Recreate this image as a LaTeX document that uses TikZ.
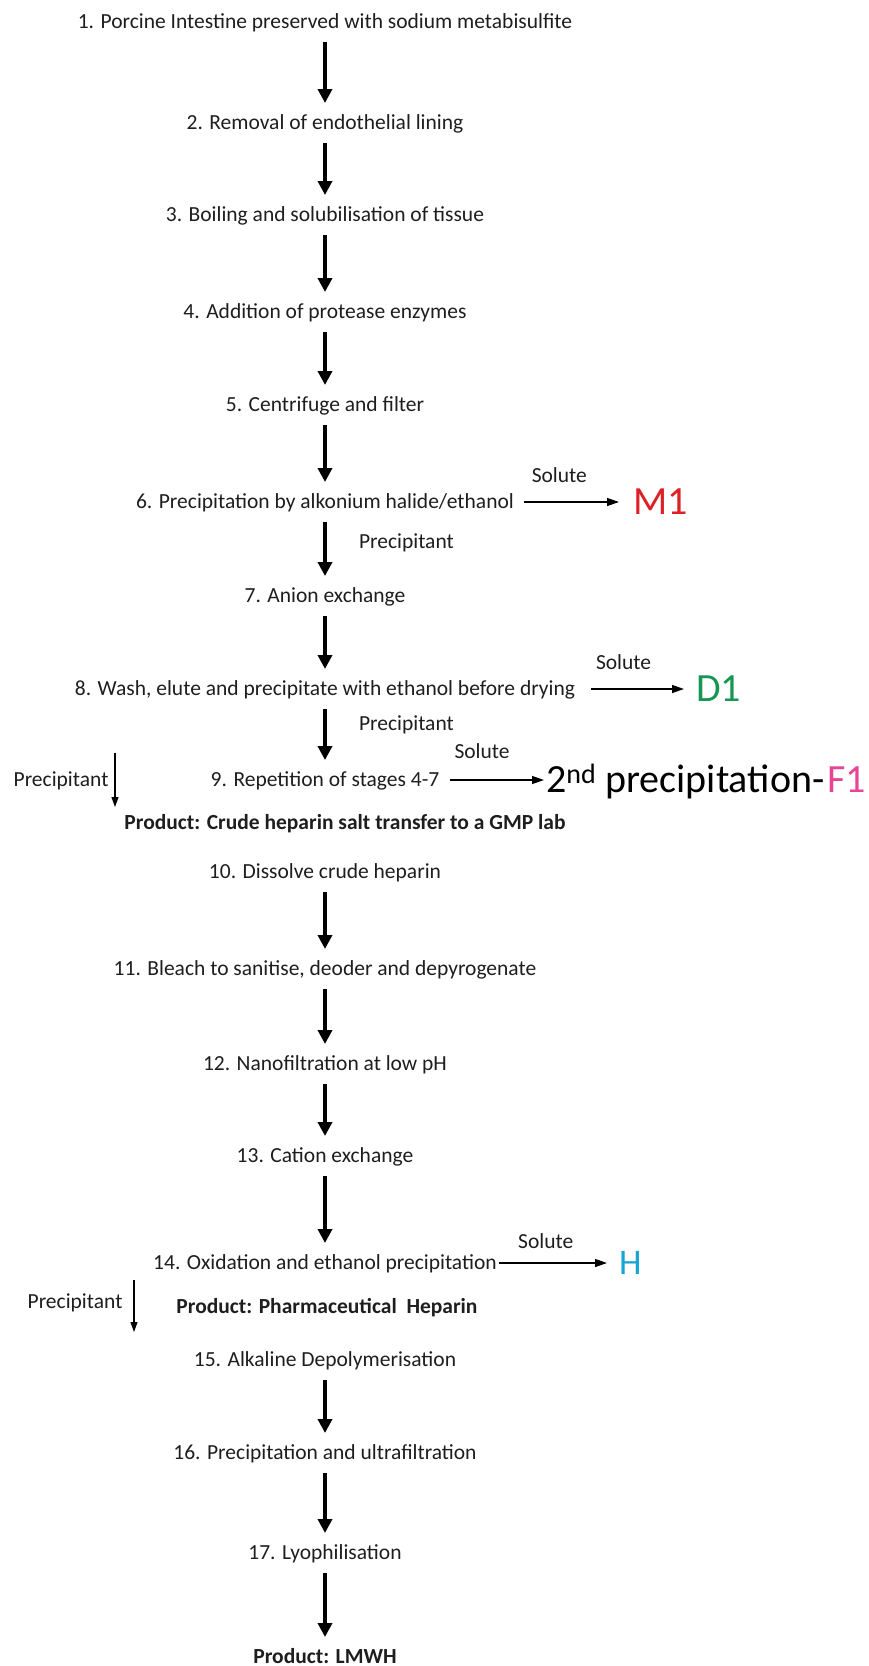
\documentclass[tikz,border=0pt]{standalone}
\usepackage{fontspec}
\setmainfont{Carlito}
\usepackage{tikz}
\usetikzlibrary{arrows.meta,positioning}
\definecolor{inkgrey}{RGB}{30,30,30}
\definecolor{mred}{RGB}{220,32,38}
\definecolor{dgreen}{RGB}{22,150,82}
\definecolor{fpink}{RGB}{230,70,150}
\definecolor{hcyan}{RGB}{25,165,210}
\newcommand{\stepfont}{\fontsize{21.5}{26}\selectfont}
\newcommand{\tagfont}{\fontsize{40}{46}\selectfont}
\newcommand{\htagfont}{\fontsize{36}{42}\selectfont}

\begin{document}
\begin{tikzpicture}[x=1pt,y=1pt,
  every node/.style={font=\stepfont,text=inkgrey},
  stp/.style={inner sep=0pt,text height=15pt,text depth=2pt,outer ysep=11.5pt},
  prod/.style={stp,font=\stepfont\bfseries},
  lbl/.style={inner sep=0pt,text height=15pt,text depth=2pt},
  tag/.style={inner sep=0pt,text height=25.8pt,text depth=0pt,anchor=west,font=\tagfont},
  ar/.style={-{Triangle[width=14pt,length=14pt]},line width=4pt,draw=black},
  sar/.style={-{Triangle[width=8pt,length=12pt]},line width=1.3pt,draw=black},
  lar/.style={-{Triangle[width=7pt,length=10pt]},line width=1.1pt,draw=black}]
\useasboundingbox (0,0) rectangle (868,-1666);
\node[stp] (s1) at (325,-22) {1. Porcine Intestine preserved with sodium metabisulfite};
\node[stp] (s2) at (325,-123) {2. Removal of endothelial lining};
\node[stp] (s3) at (325,-215) {3. Boiling and solubilisation of tissue};
\node[stp] (s4) at (325,-312) {4. Addition of protease enzymes};
\node[stp] (s5) at (325,-405) {5. Centrifuge and filter};
\node[stp] (s6) at (325,-502) {6. Precipitation by alkonium halide/ethanol};
\node[stp] (s7) at (325,-596) {7. Anion exchange};
\node[stp] (s8) at (325,-689) {8. Wash, elute and precipitate with ethanol before drying};
\node[stp] (s9) at (325,-780) {9. Repetition of stages 4-7};
\node[prod] (crude) at (345,-823) {Product: Crude heparin salt transfer to a GMP lab};
\node[stp] (s10) at (325,-872) {10. Dissolve crude heparin};
\node[stp] (s11) at (325,-969) {11. Bleach to sanitise, deoder and depyrogenate};
\node[stp] (s12) at (325,-1064) {12. Nanofiltration at low pH};
\node[stp] (s13) at (325,-1156) {13. Cation exchange};
\node[stp] (s14) at (325,-1263) {14. Oxidation and ethanol precipitation};
\node[prod] (pharm) at (327,-1307) {Product: Pharmaceutical\ \ Heparin};
\node[stp] (s15) at (325,-1360) {15. Alkaline Depolymerisation};
\node[stp] (s16) at (325,-1453) {16. Precipitation and ultrafiltration};
\node[stp] (s17) at (325,-1553) {17. Lyophilisation};
\node[prod] (lmwh) at (325,-1657) {Product: LMWH};
\node[tag,text=mred] (m1) at (633,-502) {M1};
\node[tag,text=dgreen] (d1) at (696,-689) {D1};
\node[tag,text=black] (f1) at (546,-780) {2\textsuperscript{nd} precipitation-\hspace{3pt}{\color{fpink}F1}};
\node[tag,font=\htagfont,text height=23.2pt,text=hcyan] (h) at (619,-1263) {H};
\coordinate (pa9) at (115,-753); \coordinate (pb9) at (115,-807);
\coordinate (pa14) at (134,-1280); \coordinate (pb14) at (134,-1332);
\draw[ar] (s1)--(s2); \draw[ar] (s2)--(s3); \draw[ar] (s3)--(s4);
\draw[ar] (s4)--(s5); \draw[ar] (s5)--(s6);
\draw[ar] (s6)--(s7) node[lbl,pos=.37,right=32pt] {Precipitant};
\draw[ar] (s7)--(s8);
\draw[ar] (s8)--(s9) node[lbl,pos=.3,right=32pt] {Precipitant};
\draw[ar] (s10)--(s11); \draw[ar] (s11)--(s12); \draw[ar] (s12)--(s13);
\draw[ar] (s13)--(s14); \draw[ar] (s15)--(s16); \draw[ar] (s16)--(s17);
\draw[ar] (s17)--(lmwh);
\draw[sar,shorten <=10pt,shorten >=14pt] (s6.east) -- (s6.east -| m1.west)
  node[lbl,pos=.38,above=17pt] {Solute};
\draw[sar,shorten <=16pt,shorten >=12pt] (s8.east) -- (s8.east -| d1.west)
  node[lbl,pos=.4,above=17pt] {Solute};
\draw[sar,shorten <=11pt,shorten >=2pt] (s9.east) -- (s9.east -| f1.west)
  node[lbl,pos=.4,above=19pt] {Solute};
\draw[sar,shorten <=2pt,shorten >=12pt] (s14.east) -- (s14.east -| h.west)
  node[lbl,pos=.4,above=12pt] {Solute};
\draw[lar] (pa9) -- (pb9) node[lbl,midway,left=6pt] {Precipitant};
\draw[lar] (pa14) -- (pb14) node[lbl,pos=.43,left=11pt] {Precipitant};
\end{tikzpicture}
\end{document}
